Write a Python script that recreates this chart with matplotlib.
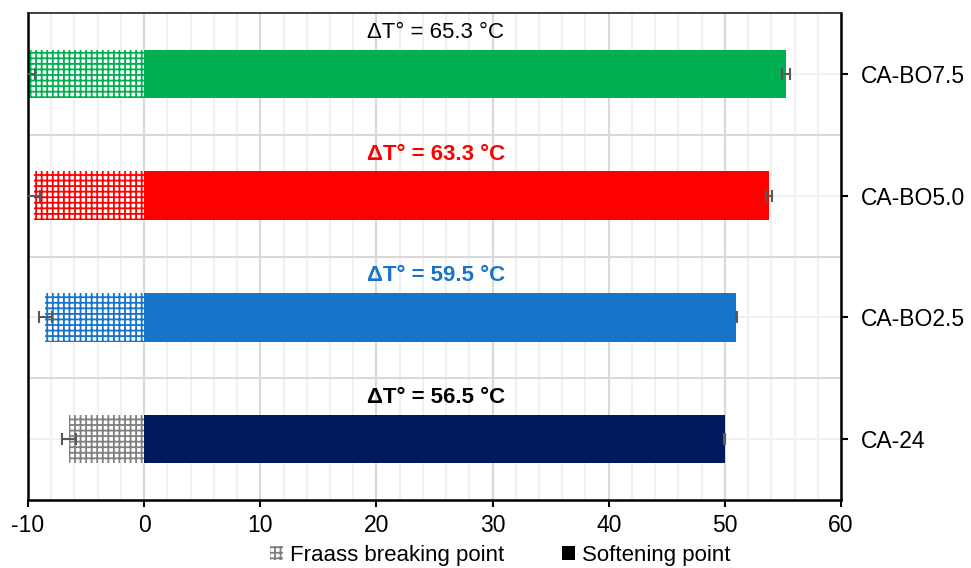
import numpy as np
import matplotlib.pyplot as plt
from matplotlib.patches import Patch

plt.rcParams['font.family'] = ['Liberation Sans', 'DejaVu Sans']
plt.rcParams['axes.unicode_minus'] = False
plt.rcParams['hatch.linewidth'] = 1.3

# data (bottom to top)
samples = ['CA-24', 'CA-BO2.5', 'CA-BO5.0', 'CA-BO7.5']
softening = [50.0, 51.0, 53.8, 55.3]
softening_err = [0.05, 0.05, 0.3, 0.35]
fraass = [-6.5, -8.5, -9.5, -10.0]
fraass_err = [0.6, 0.55, 0.55, 0.6]
delta_t = ['56.5', '59.5', '63.3', '65.3']
colors = ['#001A5E', '#1874CB', '#FF0000', '#00B050']
hatch_colors = ['#808080', '#1874CB', '#FF0000', '#00B050']
text_bold = [True, True, True, False]
text_colors = ['black', '#1874CB', '#FF0000', 'black']

fig = plt.figure(figsize=(9.71, 5.68), dpi=100)
ax = fig.add_axes([28/971, 1 - 500/568, (841-28)/971, (500-13)/568])

y = np.arange(len(samples))

# grid
for xv in np.arange(-10, 61, 2):
    c = '#d9d9d9' if xv % 10 == 0 else '#f0f0f0'
    ax.axvline(xv, color=c, lw=1.5, zorder=0)
for yv in y:
    ax.axhline(yv, color='#f0f0f0', lw=1.5, zorder=0)
for yv in y[:-1] + 0.5:
    ax.axhline(yv, color='#d9d9d9', lw=1.5, zorder=0)

ax.barh(y, softening, height=0.4, color=colors, zorder=2)
for yi, f, c in zip(y, fraass, hatch_colors):
    ax.barh(yi, f, height=0.4, color='white', edgecolor=c, hatch='+++', lw=0, zorder=2)

ax.errorbar(softening, y, xerr=softening_err, fmt='none', ecolor='#595959',
            elinewidth=1.5, capsize=4, capthick=1.5, zorder=3)
ax.errorbar(fraass, y, xerr=fraass_err, fmt='none', ecolor='#595959',
            elinewidth=1.5, capsize=4, capthick=1.5, zorder=3)

for yi, d, b, tc in zip(y, delta_t, text_bold, text_colors):
    ax.text(25.1, yi + 0.34, 'ΔT° = ' + d + ' °C', ha='center', va='center',
            fontsize=16, color=tc, fontweight='bold' if b else 'normal', zorder=4)

ax.set_xlim(-10, 60)
ax.set_ylim(-0.5, 3.5)
ax.set_xticks(np.arange(-10, 61, 10))
ax.set_yticks(y)
ax.set_yticklabels(samples)
ax.yaxis.tick_right()
ax.tick_params(axis='both', labelsize=16.5, direction='out', length=5, width=1.5, color='black')
ax.tick_params(axis='x', pad=5)
ax.tick_params(axis='y', pad=9)
for s in ['left', 'right', 'bottom']:
    ax.spines[s].set_linewidth(1.8)
    ax.spines[s].set_color('black')
ax.spines['top'].set_linewidth(1.2)
ax.spines['top'].set_color('#222222')

handles = [Patch(facecolor='white', edgecolor='#7f7f7f', hatch='+++', lw=0, label='Fraass breaking point'),
           Patch(facecolor='black', label='Softening point')]
fig.legend(handles=handles, loc='center', bbox_to_anchor=(0.515, 1 - 555/568), ncol=2,
           frameon=False, fontsize=16, handlelength=0.6, handleheight=0.6,
           handletextpad=0.3, columnspacing=2.6)

fig.savefig('out.png', dpi=100)
